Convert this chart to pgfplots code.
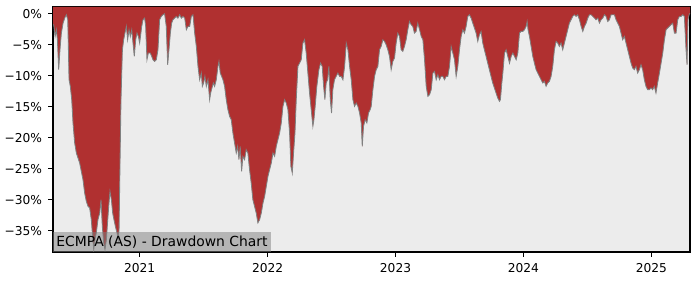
\documentclass[border=0pt]{standalone}
\usepackage{pgfplots}
\pgfplotsset{compat=1.18}
\usepgfplotslibrary{fillbetween}
\usepackage{fontspec}
\setmainfont{DejaVu Sans}
\definecolor{ddred}{RGB}{176,48,48}
\definecolor{bggray}{RGB}{236,236,236}
\begin{document}
\begin{tikzpicture}
\begin{axis}[
  scale only axis,
  width=458.6pt, height=176.4pt,
  xmin=2020.323, xmax=2025.302,
  ymin=-38.45, ymax=1.1,
  axis background/.style={fill=bggray},
  axis line style={line width=0.8pt},
  tick style={black, line width=0.8pt},
  major tick length=3.5pt,
  tick align=outside,
  xtick pos=bottom, ytick pos=left,
  xtick={2021,2022,2023,2024,2025},
  xticklabels={2021,2022,2023,2024,2025},
  ytick={0,-5,-10,-15,-20,-25,-30,-35},
  yticklabels={0\%,−5\%,−10\%,−15\%,−20\%,−25\%,−30\%,−35\%},
  ticklabel style={font=\fontsize{8.8}{10.5}\selectfont},
  xticklabel style={yshift=-1pt},
  yticklabel style={xshift=-1pt},
  clip=true,
]
\addplot[name path=dd, draw=gray, line width=0.6pt] table[row sep=\\] {
x y\\
2020.323 -1.77\\ 2020.328 -1.77\\ 2020.339 -3.66\\ 2020.349 -2.58\\ 2020.357 -4.19\\ 2020.367 -9.03\\ 2020.377 -5.81\\ 2020.388 -3.12\\ 2020.401 -1.51\\ 2020.414 -0.70\\ 2020.427 -0.16\\ 2020.438 -0.97\\ 2020.448 -10.65\\ 2020.458 -11.72\\ 2020.469 -13.87\\ 2020.479 -17.63\\ 2020.492 -20.86\\ 2020.505 -22.47\\ 2020.518 -23.28\\ 2020.531 -24.09\\ 2020.544 -25.43\\ 2020.557 -26.77\\ 2020.570 -28.92\\ 2020.583 -30.27\\ 2020.596 -31.08\\ 2020.609 -31.34\\ 2020.622 -33.23\\ 2020.630 -35.38\\ 2020.641 -38.06\\ 2020.651 -36.45\\ 2020.661 -35.38\\ 2020.674 -33.23\\ 2020.688 -32.15\\ 2020.698 -30.00\\ 2020.708 -34.30\\ 2020.719 -36.99\\ 2020.729 -38.06\\ 2020.740 -36.45\\ 2020.747 -34.30\\ 2020.758 -31.08\\ 2020.768 -28.66\\ 2020.779 -30.00\\ 2020.789 -32.15\\ 2020.799 -33.23\\ 2020.810 -34.30\\ 2020.823 -35.38\\ 2020.833 -36.45\\ 2020.839 -34.84\\ 2020.846 -24.62\\ 2020.854 -13.87\\ 2020.865 -5.81\\ 2020.875 -4.19\\ 2020.885 -3.12\\ 2020.896 -2.04\\ 2020.906 -4.19\\ 2020.917 -2.58\\ 2020.927 -3.66\\ 2020.938 -2.58\\ 2020.948 -4.73\\ 2020.958 -6.88\\ 2020.969 -4.19\\ 2020.979 -3.12\\ 2020.990 -3.66\\ 2021.000 -4.73\\ 2021.016 -2.04\\ 2021.026 -0.97\\ 2021.039 -0.70\\ 2021.047 -2.04\\ 2021.057 -7.42\\ 2021.068 -6.34\\ 2021.083 -6.34\\ 2021.094 -6.88\\ 2021.104 -7.42\\ 2021.117 -7.69\\ 2021.130 -7.42\\ 2021.143 -5.81\\ 2021.156 -0.97\\ 2021.169 -0.43\\ 2021.182 -0.16\\ 2021.195 0.00\\ 2021.208 -2.04\\ 2021.219 -8.23\\ 2021.229 -5.81\\ 2021.240 -3.12\\ 2021.250 -1.51\\ 2021.260 -0.97\\ 2021.273 -0.70\\ 2021.286 -0.43\\ 2021.299 -0.70\\ 2021.313 -0.16\\ 2021.326 -0.70\\ 2021.339 -0.43\\ 2021.352 -0.70\\ 2021.365 -2.58\\ 2021.378 -2.04\\ 2021.391 -2.04\\ 2021.404 -0.43\\ 2021.417 -0.16\\ 2021.430 -3.12\\ 2021.443 -5.27\\ 2021.456 -8.49\\ 2021.469 -10.65\\ 2021.482 -9.57\\ 2021.490 -11.72\\ 2021.500 -11.18\\ 2021.510 -10.11\\ 2021.521 -11.72\\ 2021.534 -10.65\\ 2021.547 -13.87\\ 2021.555 -12.80\\ 2021.565 -11.99\\ 2021.576 -11.18\\ 2021.586 -11.72\\ 2021.599 -10.65\\ 2021.612 -8.49\\ 2021.620 -7.69\\ 2021.630 -9.57\\ 2021.641 -10.11\\ 2021.651 -10.65\\ 2021.664 -11.72\\ 2021.677 -13.87\\ 2021.690 -15.48\\ 2021.703 -16.56\\ 2021.716 -17.10\\ 2021.729 -19.25\\ 2021.742 -20.86\\ 2021.755 -22.47\\ 2021.766 -21.40\\ 2021.776 -23.55\\ 2021.786 -21.40\\ 2021.797 -25.43\\ 2021.807 -23.01\\ 2021.820 -23.55\\ 2021.833 -21.94\\ 2021.846 -22.47\\ 2021.859 -25.16\\ 2021.872 -27.31\\ 2021.885 -30.00\\ 2021.898 -31.08\\ 2021.911 -32.15\\ 2021.924 -33.76\\ 2021.938 -33.23\\ 2021.951 -32.15\\ 2021.964 -30.54\\ 2021.977 -29.46\\ 2021.990 -27.85\\ 2022.003 -26.24\\ 2022.016 -25.16\\ 2022.029 -24.09\\ 2022.042 -22.47\\ 2022.055 -23.01\\ 2022.068 -21.40\\ 2022.081 -20.32\\ 2022.094 -19.25\\ 2022.107 -17.63\\ 2022.120 -14.95\\ 2022.133 -13.87\\ 2022.146 -14.41\\ 2022.159 -15.48\\ 2022.172 -19.25\\ 2022.182 -24.62\\ 2022.193 -25.70\\ 2022.203 -22.47\\ 2022.214 -19.25\\ 2022.224 -13.87\\ 2022.237 -8.49\\ 2022.250 -7.96\\
2022.263 -7.42\\ 2022.276 -4.73\\ 2022.289 -4.19\\ 2022.302 -6.34\\ 2022.315 -9.57\\ 2022.328 -12.80\\ 2022.341 -15.48\\ 2022.354 -18.17\\ 2022.362 -17.10\\ 2022.372 -14.95\\ 2022.385 -11.72\\ 2022.401 -9.03\\ 2022.414 -7.96\\ 2022.427 -8.49\\ 2022.438 -11.72\\ 2022.448 -13.87\\ 2022.458 -11.18\\ 2022.469 -10.65\\ 2022.479 -8.49\\ 2022.490 -13.87\\ 2022.500 -16.02\\ 2022.510 -12.26\\ 2022.523 -10.65\\ 2022.536 -10.11\\ 2022.549 -9.57\\ 2022.563 -10.11\\ 2022.576 -10.11\\ 2022.589 -10.65\\ 2022.602 -8.49\\ 2022.615 -4.73\\ 2022.628 -5.81\\ 2022.641 -8.49\\ 2022.654 -10.65\\ 2022.667 -13.87\\ 2022.680 -14.95\\ 2022.693 -14.41\\ 2022.706 -14.95\\ 2022.719 -16.02\\ 2022.732 -17.63\\ 2022.740 -21.40\\ 2022.750 -18.17\\ 2022.763 -17.10\\ 2022.776 -17.63\\ 2022.789 -16.02\\ 2022.802 -15.48\\ 2022.810 -14.95\\ 2022.823 -12.26\\ 2022.836 -10.11\\ 2022.849 -9.03\\ 2022.862 -8.49\\ 2022.875 -5.81\\ 2022.888 -5.27\\ 2022.901 -4.19\\ 2022.914 -4.46\\ 2022.927 -5.00\\ 2022.940 -5.81\\ 2022.953 -6.88\\ 2022.966 -9.03\\ 2022.979 -7.69\\ 2022.992 -7.15\\ 2023.005 -4.73\\ 2023.018 -3.12\\ 2023.031 -3.66\\ 2023.044 -5.81\\ 2023.057 -6.08\\ 2023.070 -5.27\\ 2023.083 -4.19\\ 2023.096 -2.58\\ 2023.109 -1.24\\ 2023.122 -1.77\\ 2023.135 -2.04\\ 2023.148 -3.12\\ 2023.161 -2.85\\ 2023.174 -1.51\\ 2023.188 -2.58\\ 2023.201 -3.66\\ 2023.214 -4.19\\ 2023.227 -7.42\\ 2023.240 -11.72\\ 2023.253 -13.33\\ 2023.266 -13.06\\ 2023.279 -12.26\\ 2023.292 -9.57\\ 2023.305 -9.30\\ 2023.318 -10.65\\ 2023.331 -9.84\\ 2023.344 -10.65\\ 2023.357 -10.11\\ 2023.370 -10.11\\ 2023.383 -10.65\\ 2023.396 -10.11\\ 2023.409 -10.11\\ 2023.422 -8.49\\ 2023.435 -5.27\\ 2023.448 -6.34\\ 2023.461 -7.42\\ 2023.474 -10.11\\ 2023.487 -8.49\\ 2023.500 -5.81\\ 2023.513 -3.66\\ 2023.526 -2.58\\ 2023.539 -3.12\\ 2023.552 -2.04\\ 2023.565 -0.43\\ 2023.578 -0.16\\ 2023.591 -0.70\\ 2023.604 -1.51\\ 2023.617 -2.31\\ 2023.630 -3.12\\ 2023.643 -4.46\\ 2023.656 -3.39\\ 2023.669 -2.85\\ 2023.682 -4.73\\ 2023.695 -5.81\\ 2023.708 -6.88\\ 2023.721 -7.96\\ 2023.734 -9.03\\ 2023.747 -10.11\\ 2023.760 -11.18\\ 2023.773 -11.99\\ 2023.786 -12.80\\ 2023.799 -13.60\\ 2023.813 -14.14\\ 2023.820 -13.87\\ 2023.831 -11.18\\ 2023.839 -9.57\\ 2023.852 -6.34\\ 2023.865 -5.81\\ 2023.878 -6.88\\ 2023.891 -7.96\\ 2023.904 -6.88\\ 2023.917 -6.34\\ 2023.930 -6.88\\ 2023.943 -7.42\\ 2023.956 -6.34\\ 2023.969 -3.12\\ 2023.982 -2.85\\ 2023.995 -2.85\\ 2024.008 -2.58\\ 2024.021 -2.04\\ 2024.029 -1.24\\ 2024.036 -2.58\\ 2024.047 -3.66\\ 2024.060 -5.27\\ 2024.073 -6.88\\ 2024.086 -7.96\\ 2024.099 -9.03\\ 2024.112 -9.57\\ 2024.125 -10.11\\ 2024.138 -10.65\\ 2024.151 -11.18\\ 2024.164 -10.91\\ 2024.177 -11.72\\ 2024.190 -11.18\\ 2024.203 -10.91\\ 2024.216 -10.11\\ 2024.229 -8.49\\ 2024.242 -5.81\\ 2024.255 -4.46\\ 2024.268 -4.73\\ 2024.281 -5.27\\ 2024.294 -4.73\\ 2024.307 -5.81\\ 2024.320 -4.73\\ 2024.333 -3.66\\ 2024.346 -2.58\\ 2024.359 -1.51\\ 2024.372 -0.97\\ 2024.385 -0.43\\ 2024.398 -0.16\\ 2024.411 -0.43\\ 2024.424 -0.16\\ 2024.438 -0.97\\ 2024.451 -2.04\\ 2024.464 -2.85\\ 2024.477 -2.04\\ 2024.490 -1.51\\ 2024.503 -0.70\\ 2024.516 -0.16\\ 2024.529 -0.16\\ 2024.542 -0.43\\ 2024.555 -0.70\\ 2024.568 -0.97\\ 2024.581 -0.70\\ 2024.594 -1.51\\ 2024.607 -0.97\\ 2024.620 -0.70\\ 2024.633 -0.16\\ 2024.646 -0.43\\ 2024.659 -1.24\\ 2024.672 -0.97\\ 2024.685 -0.16\\ 2024.698 -0.16\\ 2024.711 -0.16\\ 2024.724 -0.97\\ 2024.737 -1.51\\ 2024.750 -2.04\\ 2024.763 -3.12\\ 2024.776 -4.19\\ 2024.789 -3.66\\ 2024.802 -4.73\\ 2024.815 -5.81\\ 2024.828 -6.88\\ 2024.841 -7.96\\ 2024.854 -8.76\\ 2024.867 -9.03\\ 2024.880 -8.49\\ 2024.893 -9.57\\ 2024.906 -9.03\\ 2024.919 -8.23\\ 2024.932 -9.03\\ 2024.945 -10.65\\ 2024.958 -11.72\\ 2024.971 -12.26\\ 2024.984 -12.26\\ 2024.997 -11.99\\ 2025.010 -12.26\\ 2025.023 -11.72\\ 2025.036 -12.80\\ 2025.049 -11.18\\ 2025.063 -9.57\\ 2025.076 -7.96\\ 2025.089 -6.34\\ 2025.102 -4.19\\ 2025.115 -2.58\\ 2025.128 -2.31\\ 2025.141 -2.04\\ 2025.154 -1.77\\ 2025.167 -1.51\\ 2025.180 -3.12\\ 2025.193 -3.12\\ 2025.206 -0.97\\ 2025.219 -0.43\\ 2025.232 -0.43\\ 2025.245 -0.16\\ 2025.258 -0.43\\ 2025.271 -5.81\\ 2025.279 -8.23\\ 2025.286 -0.97\\ 2025.297 0.00\\ 2025.302 0.00\\
};
\addplot[name path=top, draw=none] coordinates {(2020.323,1.1) (2025.302,1.1)};
\addplot[fill=ddred, draw=none] fill between[of=dd and top];
\node[anchor=south west, fill=gray, fill opacity=0.5, text opacity=1, inner xsep=2.2pt, inner ysep=2.5pt, minimum height=13.7pt, font=\fontsize{10}{12}\selectfont] at (rel axis cs:0,0) {ECMPA (AS) - Drawdown Chart};
\end{axis}
\path (current axis.south west) ++(-38.2pt,-20.2pt) coordinate (bl);
\path (current axis.north east) ++(7.2pt,5pt) coordinate (tr);
\pgfresetboundingbox
\path[use as bounding box] (bl) rectangle (tr);
\end{tikzpicture}
\end{document}
